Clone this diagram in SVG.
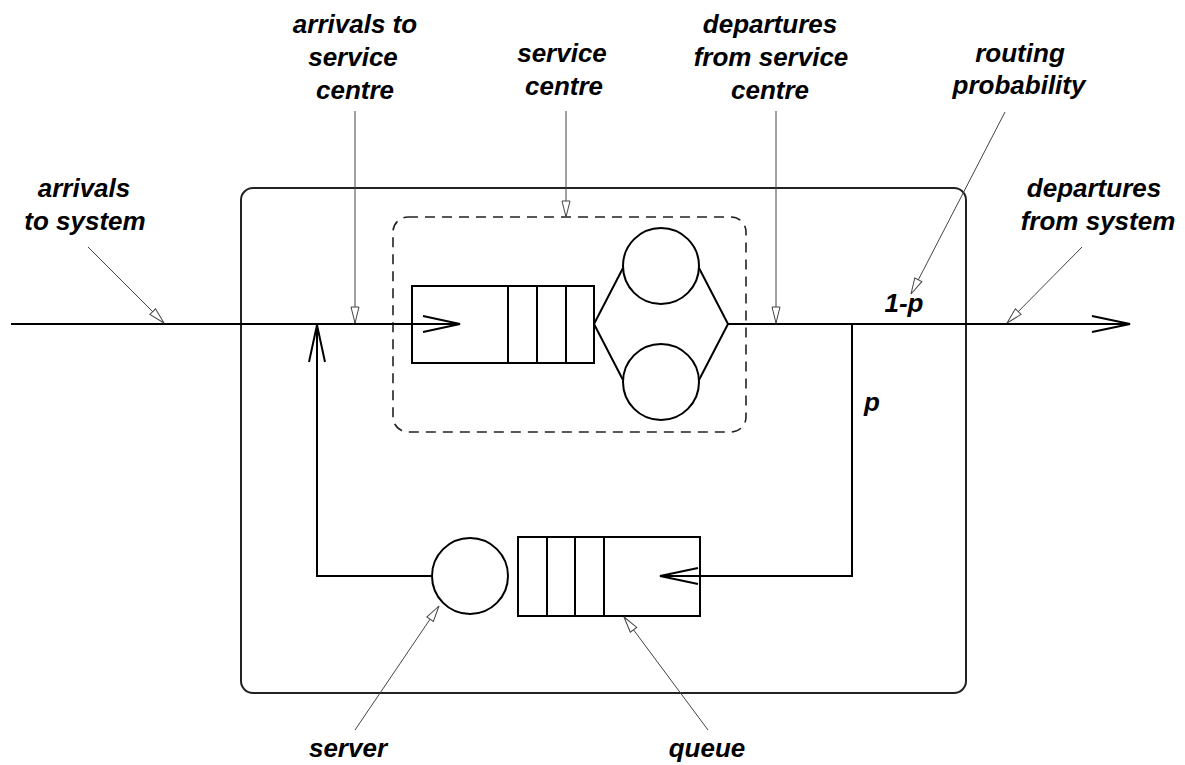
<svg xmlns="http://www.w3.org/2000/svg" width="1185" height="765" viewBox="0 0 1185 765">
<style>
.lbl{font-family:"Liberation Sans",Arial,sans-serif;font-style:italic;font-weight:bold;font-size:26px;fill:#000;text-anchor:middle}
.flow{fill:none;stroke:#000;stroke-width:2}
.shape{fill:#fff;stroke:#000;stroke-width:2}
.lead{fill:none;stroke:#444;stroke-width:1}
.chev{fill:none;stroke:#000;stroke-width:2}
</style>
<defs>
<marker id="hollow" viewBox="0 0 18 10" refX="17" refY="5" markerWidth="18" markerHeight="10" markerUnits="userSpaceOnUse" orient="auto">
<path d="M1,1 L17,5 L1,9 Z" fill="#fff" stroke="#444" stroke-width="1"/>
</marker>
</defs>
<rect width="1185" height="765" fill="#fff"/>

<g id="system">
<rect x="241" y="188" width="725" height="505" rx="12" fill="none" stroke="#222" stroke-width="2"/>
</g>

<g id="service-centre">
<rect x="393" y="217" width="353" height="215" rx="15" fill="none" stroke="#222" stroke-width="1.6" stroke-dasharray="10,7"/>
</g>

<g id="queue-1">
<rect class="shape" x="412" y="286" width="182" height="77"/>
<line class="flow" x1="508" y1="286" x2="508" y2="363"/>
<line class="flow" x1="537" y1="286" x2="537" y2="363"/>
<line class="flow" x1="566" y1="286" x2="566" y2="363"/>
</g>

<g id="servers-1">
<circle class="shape" cx="661" cy="266" r="38"/>
<circle class="shape" cx="661" cy="382" r="38"/>
<polyline class="flow" points="623,268 594,324 623,380"/>
<polyline class="flow" points="699,268 728,324 699,380"/>
</g>

<g id="server-2">
<circle class="shape" cx="470" cy="576" r="38"/>
</g>

<g id="queue-2">
<rect class="shape" x="518" y="537" width="182" height="79"/>
<line class="flow" x1="547" y1="537" x2="547" y2="616"/>
<line class="flow" x1="575" y1="537" x2="575" y2="616"/>
<line class="flow" x1="604" y1="537" x2="604" y2="616"/>
</g>

<g id="connectors">
<line class="flow" x1="11" y1="324" x2="460" y2="324"/>
<polyline class="chev" points="423,316 460,324 423,332"/>
<line class="flow" x1="728" y1="324" x2="1130" y2="324"/>
<polyline class="chev" points="1092,316 1130,324 1092,332"/>
<polyline class="flow" points="852,324 852,576 660,576"/>
<polyline class="chev" points="698,568 660,576 698,584"/>
<polyline class="flow" points="432,576 317,576 317,325"/>
<polyline class="chev" points="309,362 317,325 325,362"/>

<line class="lead" x1="88" y1="247" x2="164" y2="323" marker-end="url(#hollow)"/>
<line class="lead" x1="355" y1="111" x2="355" y2="323" marker-end="url(#hollow)"/>
<line class="lead" x1="566" y1="111" x2="566" y2="217" marker-end="url(#hollow)"/>
<line class="lead" x1="776" y1="111" x2="776" y2="323" marker-end="url(#hollow)"/>
<line class="lead" x1="1005" y1="112" x2="911" y2="294" marker-end="url(#hollow)"/>
<line class="lead" x1="1082" y1="247" x2="1007" y2="323" marker-end="url(#hollow)"/>
<line class="lead" x1="355" y1="730" x2="439" y2="606" marker-end="url(#hollow)"/>
<line class="lead" x1="708" y1="730" x2="624" y2="617" marker-end="url(#hollow)"/>
</g>

<g id="labels">
<text class="lbl" x="84" y="197">arrivals</text>
<text class="lbl" x="85" y="230">to system</text>
<text class="lbl" x="355" y="33">arrivals to</text>
<text class="lbl" x="353" y="66">service</text>
<text class="lbl" x="355" y="99">centre</text>
<text class="lbl" x="562" y="62">service</text>
<text class="lbl" x="564" y="95">centre</text>
<text class="lbl" x="770" y="33">departures</text>
<text class="lbl" x="771" y="66">from service</text>
<text class="lbl" x="770" y="99">centre</text>
<text class="lbl" x="1020" y="62">routing</text>
<text class="lbl" x="1019" y="94">probability</text>
<text class="lbl" x="1094" y="197">departures</text>
<text class="lbl" x="1098" y="230">from system</text>
<text class="lbl" x="904" y="312">1-p</text>
<text class="lbl" x="872" y="411">p</text>
<text class="lbl" x="348" y="757">server</text>
<text class="lbl" x="707" y="757">queue</text>
</g>
</svg>
